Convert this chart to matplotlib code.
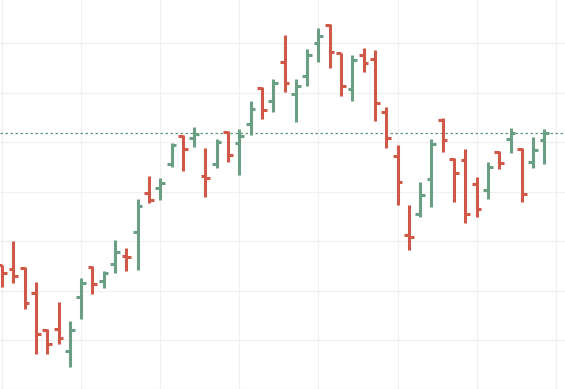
import matplotlib
matplotlib.use("Agg")
import matplotlib.pyplot as plt
from matplotlib.collections import LineCollection

# OHLC values (one bar per day)
opens = [125.2, 124.3, 124.5, 119.5, 112.0, 112.2, 107.8, 118.7, 124.7, 121.9,
         125.4, 127.0, 131.8, 139.7, 140.7, 145.6, 151.2, 150.8, 143.1, 145.6,
         152.1, 149.9, 153.6, 160.9, 158.3, 166.2, 159.7, 163.3, 170.0, 173.6,
         167.9, 160.7, 167.6, 166.8, 156.1, 147.2, 131.2, 135.5, 142.5, 154.4,
         146.6, 146.4, 141.5, 140.3, 148.0, 150.6, 148.6, 146.0, 150.4]
highs = [125.2, 130.0, 124.7, 121.7, 112.2, 117.7, 113.8, 122.5, 124.9, 123.9,
         130.2, 128.6, 138.5, 143.1, 142.7, 149.8, 151.4, 153.0, 148.8, 150.6,
         152.2, 152.6, 158.3, 161.1, 162.7, 171.6, 162.7, 168.8, 173.0, 173.8,
         168.0, 167.6, 169.0, 168.6, 157.1, 149.4, 137.3, 141.9, 150.6, 154.8,
         146.8, 148.6, 142.9, 146.0, 148.2, 152.8, 148.8, 151.0, 152.6]
lows = [120.7, 121.5, 116.3, 107.2, 107.2, 109.2, 104.5, 114.2, 119.3, 120.5,
        123.6, 123.9, 124.1, 137.7, 138.3, 145.0, 144.1, 149.0, 138.9, 144.7,
        146.0, 143.4, 151.4, 154.6, 156.1, 160.1, 154.0, 161.3, 166.2, 164.9,
        159.3, 158.3, 164.1, 154.2, 148.8, 137.3, 128.2, 134.8, 136.9, 148.0,
        137.9, 133.6, 134.8, 138.5, 144.5, 147.8, 137.9, 144.7, 145.6]
closes = [123.5, 122.9, 117.5, 111.2, 109.2, 110.4, 112.0, 121.5, 121.3, 123.5,
          127.8, 126.8, 137.1, 138.3, 141.7, 149.4, 148.6, 151.7, 142.7, 150.0,
          147.4, 151.3, 156.7, 156.5, 161.9, 161.9, 161.3, 167.6, 171.4, 168.2,
          161.3, 166.6, 165.9, 157.9, 150.8, 141.9, 130.9, 139.3, 149.6, 150.4,
          143.7, 135.5, 136.5, 145.0, 145.8, 151.8, 139.5, 148.4, 151.8]
price_ticks = [100, 110, 120, 130, 140, 150, 160, 170]

UP = "#6b9f83"
DOWN = "#cf5849"
GRID = "#f0f0f0"

fig = plt.figure(figsize=(5.65, 3.89), dpi=100)
ax = fig.add_axes([0, 0, 1, 1])
ax.set_facecolor("white")

n = len(opens)
xs = list(range(n))
segs, cols = [], []
tick = 0.42
for i in xs:
    o, h, l, c = opens[i], highs[i], lows[i], closes[i]
    col = UP if c >= o else DOWN
    segs.append([(i, l), (i, h)])
    segs.append([(i - tick, o), (i, o)])
    segs.append([(i, c), (i + tick, c)])
    cols += [col, col, col]

lc = LineCollection(segs, colors=cols, linewidths=2.2, capstyle="butt", zorder=3)
ax.add_collection(lc)

# grid
for x in range(0, n + 1, 7):
    ax.axvline(x, color=GRID, lw=0.9, zorder=1)
for y in price_ticks:
    ax.axhline(y, color=GRID, lw=0.9, zorder=1)

# last price line
ax.axhline(closes[-1], color="#5f9878", lw=0.9, ls=(0, (2, 2)), zorder=2)

ax.set_xlim(-0.177, 49.82)
ax.set_ylim(100.1, 178.69)
ax.set_xticks([])
ax.set_yticks([])
for s in ax.spines.values():
    s.set_visible(False)

fig.savefig("out.png", dpi=100)
